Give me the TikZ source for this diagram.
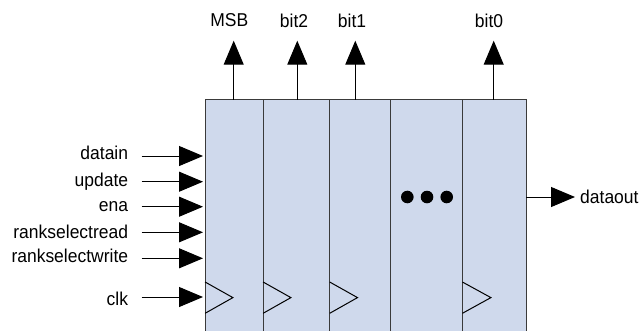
\documentclass[tikz,border=0pt]{standalone}
\usepackage{fontspec}
\setmainfont[FakeStretch=0.94]{Liberation Sans}
\usetikzlibrary{arrows.meta}
\definecolor{cellfill}{HTML}{CFD9EC}
\definecolor{cellline}{HTML}{3A3A3A}
\tikzset{
  cell/.style={draw=cellline,fill=cellfill,line width=1pt,rectangle,anchor=north west,minimum height=233pt,outer sep=0pt,inner sep=0pt},
  sig/.style={draw=black,line width=1pt,-{Triangle[length=24pt,width=20pt,fill=black]}},
  lbl/.style={font=\fontsize{18.6}{20}\selectfont,text=black,inner sep=0pt},
  leftlbl/.style={lbl,anchor=east},
  clock/.style={draw=black,line width=1pt,line join=miter},
  dot/.style={circle,fill=black,minimum size=12.6pt,inner sep=0pt,outer sep=0pt}
}
\begin{document}
\begin{tikzpicture}[x=1pt,y=-1pt]
\useasboundingbox (0,0) rectangle (639,330);
% cells
\node[cell,minimum width=58pt]   (c1) at (205.1,99.5) {};
\node[cell,minimum width=66.6pt] (c2) at (263.1,99.5) {};
\node[cell,minimum width=61pt]   (c3) at (329.7,99.5) {};
\node[cell,minimum width=71.7pt] (c4) at (390.7,99.5) {};
\node[cell,minimum width=63.7pt] (c5) at (462.4,99.5) {};
% clock triangles
\draw[clock] (c1.west |- 0,282) -- (232.9,297.6) -- (c1.west |- 0,313.3);
\draw[clock] (c2.west |- 0,282) -- (290.9,297.6) -- (c2.west |- 0,313.3);
\draw[clock] (c3.west |- 0,282) -- (357.5,297.6) -- (c3.west |- 0,313.3);
\draw[clock] (c5.west |- 0,282) -- (490.9,297.6) -- (c5.west |- 0,313.3);
% dots
\node[dot] (d1) at (407.3,197) {};
\node[dot] (d2) at (427,197) {};
\node[dot] (d3) at (446.7,197) {};
% top labels
\node[lbl] (msb) at (229.3,20.5) {MSB};
\node[lbl] (b2) at (294,20.5) {bit2};
\node[lbl] (b1) at (352,20.5) {bit1};
\node[lbl] (b0) at (489,20.5) {bit0};
\coordinate (msbT) at (233.7,40.7);
\coordinate (b2T) at (297.3,40.7);
\coordinate (b1T) at (355.3,40.7);
\coordinate (b0T) at (493.7,40.7);
\draw[sig] (msbT |- c1.north) -- (msbT);
\draw[sig] (b2T |- c2.north) -- (b2T);
\draw[sig] (b1T |- c3.north) -- (b1T);
\draw[sig] (b0T |- c5.north) -- (b0T);
% left labels
\node[leftlbl] (datain) at (128.3,152.5) {datain};
\node[leftlbl] (update) at (128.3,182) {update};
\node[leftlbl] (ena) at (128.3,207) {ena};
\node[leftlbl] (rread) at (128.3,231.5) {rankselectread};
\node[leftlbl] (rwrite) at (128.3,255.5) {rankselectwrite};
\node[leftlbl] (clk) at (128.3,298.5) {clk};
\foreach \n/\y in {datain/156,update/181.7,ena/206.7,rread/232.3,rwrite/258.3,clk/297}{
  \coordinate (\n S) at (141.7,\y);
  \draw[sig] (\n S) -- (203,\y);
}
% output
\node[lbl,anchor=west] (dout) at (580,197) {dataout};
\coordinate (doutT) at (575,197);
\draw[sig] (doutT -| c5.east) -- (doutT);
\end{tikzpicture}
\end{document}
